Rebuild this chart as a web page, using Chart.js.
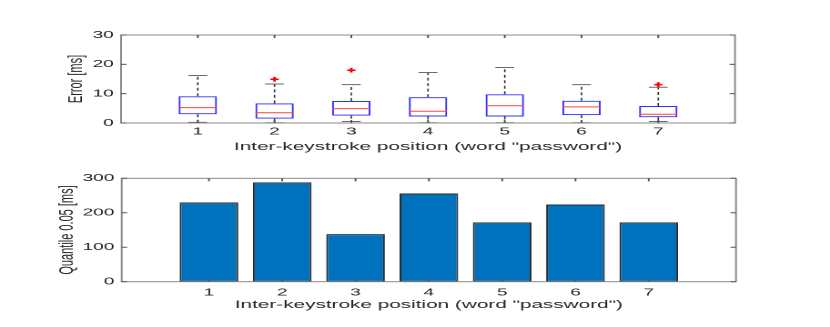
<!DOCTYPE html>
<html><head><meta charset="utf-8">
<script src="https://cdn.jsdelivr.net/npm/chart.js@4"></script>
<style>
html,body{margin:0;padding:0;background:#fff;overflow:hidden;width:830px;height:327px;}
canvas{position:absolute;left:0;top:0;transform:scaleX(1.8202);transform-origin:0 0;}
</style></head><body>
<canvas id="top" width="456" height="327" style="width:456px;height:327px"></canvas>
<canvas id="bot" width="456" height="327" style="width:456px;height:327px"></canvas>
<script>
// ---- data ----
const positions = [1, 2, 3, 4, 5, 6, 7];
const tickLabels = ['1', '2', '3', '4', '5', '6', '7'];
const xTitle = 'Inter-keystroke position (word "password")';
const errTitle = 'Error [ms]';
const quantTitle = 'Quantile 0.05 [ms]';
const errTicks = [0, 10, 20, 30];
const quantTicks = [0, 100, 200, 300];
// boxplot statistics (Error [ms])
const whiskerLow  = [0.2, 0.1, 0.5, 0.1, 0.1, 0.1, 0.5];
const q1          = [3.0, 1.5, 2.5, 2.2, 2.2, 2.7, 1.95];
const median      = [5.25, 3.5, 4.9, 4.0, 5.9, 5.5, 3.0];
const q3          = [9.1, 6.7, 7.5, 8.8, 9.8, 7.6, 5.8];
const whiskerHigh = [16.2, 13.3, 13.1, 17.2, 18.9, 13.1, 12.2];
const outlierPos  = [2, 3, 7];
const outlierVal  = [14.9, 18.0, 13.1];
// quantile 0.05 [ms]
const quantile = [230, 288, 138, 256, 172, 224, 172];

// ---- styling helpers ----
const FONT = '"Liberation Sans", Arial, Helvetica, sans-serif';
const TXT = '#262626';

const framePlugin = {
  id: 'frame',
  afterDraw(chart) {
    const {ctx, chartArea: a, scales: {x, y}} = chart;
    ctx.save();
    ctx.strokeStyle = '#8a8a8a';
    ctx.lineWidth = 1;
    ctx.setLineDash([]);
    ctx.strokeRect(a.left, a.top, a.right - a.left, a.bottom - a.top);
    ctx.strokeStyle = '#555';
    const seg = (x1, y1, x2, y2) => { ctx.beginPath(); ctx.moveTo(x1, y1); ctx.lineTo(x2, y2); ctx.stroke(); };
    x.ticks.forEach(t => {
      const px = x.getPixelForValue(t.value);
      seg(px, a.bottom, px, a.bottom - 3);
      seg(px, a.top, px, a.top + 3);
    });
    y.ticks.forEach(t => {
      const py = y.getPixelForValue(t.value);
      seg(a.left, py, a.left + 3, py);
      seg(a.right, py, a.right - 3, py);
    });
    ctx.restore();
  }
};

function xScale(min, max, labelPad, titlePad) {
  return {
    type: 'linear', min, max, offset: false,
    grid: {display: false, offset: false, drawTicks: false, tickLength: 0}, border: {display: false},
    afterBuildTicks: s => { s.ticks = positions.map(v => ({value: v})); },
    afterFit: s => { s.height = 37; },
    ticks: {padding: labelPad, color: TXT, font: {family: FONT, size: 10.5},
            callback: v => tickLabels[positions.indexOf(v)]},
    title: {display: true, text: xTitle, color: TXT, font: {family: FONT, size: 11.4},
            padding: {top: 0, bottom: titlePad}}
  };
}
function yScale(min, max, tickVals, title, width) {
  return {
    type: 'linear', min, max,
    grid: {display: false, drawTicks: false, tickLength: 0}, border: {display: false},
    afterBuildTicks: s => { s.ticks = tickVals.map(v => ({value: v})); },
    afterFit: s => { s.width = width; },
    ticks: {padding: 4, color: TXT, font: {family: FONT, size: 10.5}},
    title: {display: true, text: title, color: TXT, font: {family: FONT, size: 11},
            padding: {top: 0, bottom: 0}}
  };
}

// ---- top: boxplot ----
const whiskerData = [];
positions.forEach((p, i) => {
  whiskerData.push({x: p, y: q3[i]}, {x: p, y: whiskerHigh[i]}, {x: p, y: null});
  whiskerData.push({x: p, y: q1[i]}, {x: p, y: whiskerLow[i]}, {x: p, y: null});
});
const capData = [];
positions.forEach((p, i) => {
  capData.push({x: p, y: whiskerHigh[i]}, {x: p, y: whiskerLow[i]});
});

new Chart(document.getElementById('top'), {
  type: 'bar',
  data: {
    datasets: [
      {type: 'scatter', data: outlierPos.map((p, i) => ({x: p, y: outlierVal[i]})),
       pointStyle: 'cross', pointRadius: 2.3, borderColor: '#ff0000', borderWidth: 1.5},
      {type: 'scatter', data: positions.map((p, i) => ({x: p, y: median[i]})),
       pointStyle: 'line', pointRadius: 10.4, borderColor: '#ff4040', borderWidth: 1},
      {type: 'bar', data: positions.map((p, i) => ({x: p, y: [q1[i], q3[i]]})),
       backgroundColor: 'rgba(0,0,0,0)', borderColor: '#3030ff', borderWidth: 1,
       borderSkipped: false, barPercentage: 0.5, categoryPercentage: 1},
      {type: 'scatter', data: capData,
       pointStyle: 'line', pointRadius: 5.2, borderColor: '#6a6a6a', borderWidth: 1},
      {type: 'line', data: whiskerData, borderColor: '#303030', borderWidth: 0.8,
       borderDash: [3, 2.5], pointRadius: 0, spanGaps: false, fill: false}
    ]
  },
  options: {
    responsive: false, animation: false, devicePixelRatio: 2, events: [],
    layout: {padding: {left: 35.5, right: 52.2, top: 35, bottom: 167}},
    plugins: {legend: {display: false}, tooltip: {enabled: false}},
    scales: {
      x: xScale(0, 8, 2.5, 6.5),
      y: yScale(0, 30, errTicks, errTitle, 31.0)
    }
  },
  plugins: [framePlugin]
});

// ---- bottom: bar chart ----
new Chart(document.getElementById('bot'), {
  type: 'bar',
  data: {
    datasets: [
      {data: positions.map((p, i) => ({x: p, y: quantile[i]})),
       backgroundColor: '#0072BD', borderColor: '#2a2a2a', borderWidth: 1,
       borderSkipped: false, barPercentage: 0.8, categoryPercentage: 1}
    ]
  },
  options: {
    responsive: false, animation: false, devicePixelRatio: 2, events: [],
    layout: {padding: {left: 30.5, right: 51.65, top: 178.3, bottom: 8.3}},
    plugins: {legend: {display: false}, tooltip: {enabled: false}},
    scales: {
      x: xScale(-0.19, 8.19, 4.5, 7.0),
      y: yScale(0, 300, quantTicks, quantTitle, 36.36)
    }
  },
  plugins: [framePlugin]
});
</script>
</body></html>
